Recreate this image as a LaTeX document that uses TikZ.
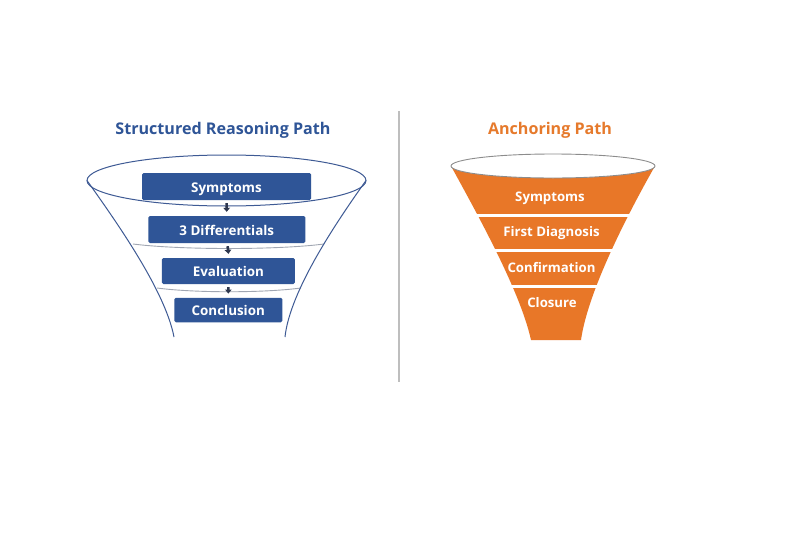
\documentclass[tikz,border=0pt]{standalone}
\usepackage{fontspec}
\setmainfont{Open Sans}
\usetikzlibrary{arrows.meta}
\definecolor{boxblue}{RGB}{47,85,151}
\definecolor{titleblue}{RGB}{47,85,151}
\definecolor{outlineblue}{RGB}{62,90,148}
\definecolor{arcgray}{RGB}{160,166,178}
\definecolor{funorange}{RGB}{232,119,40}
\definecolor{titleorange}{RGB}{230,122,44}
\definecolor{rimgray}{RGB}{140,140,140}
\definecolor{divgray}{RGB}{190,190,190}
\definecolor{arrowdark}{RGB}{45,55,78}
\tikzset{
  stepbox/.style={fill=boxblue, draw=none, rounded corners=1.5pt, text=white,
    font=\bfseries\fontsize{13.4}{15}\selectfont, inner sep=0pt, anchor=center,
    text height=11pt, text depth=0pt},
  ortext/.style={text=white, font=\bfseries\fontsize{13.2}{15}\selectfont, anchor=center},
  titletext/.style={font=\bfseries\fontsize{16.1}{19}\selectfont, anchor=center},
  smallarrow/.style={draw=arrowdark, line width=2.6pt, -{Triangle[width=6.5pt,length=4pt]}, shorten <=3pt, shorten >=4pt},
  funline/.style={draw=outlineblue, line width=1pt},
  innerarc/.style={draw=arcgray, line width=0.9pt},
  gapline/.style={draw=white, line width=3.5pt}
}
\begin{document}
\begin{tikzpicture}[x=1pt,y=-1pt]
\useasboundingbox (0,0) rectangle (800,533);
\fill[white] (0,0) rectangle (800,533);

% titles
\node[titletext, text=titleblue] (t1) at (223,130) {Structured Reasoning Path};
\node[titletext, text=titleorange] (t2) at (550,130) {Anchoring Path};

% divider
\draw[divgray, line width=1.4pt] (399,111) -- (399,382);

% ---------- left funnel ----------
\draw[innerarc] (133,244) .. controls (180,250) and (278,250) .. (324,244);
\draw[innerarc] (157,288) .. controls (195,293) and (263,293) .. (301,288);
\draw[funline] (226.5,180.5) ellipse [x radius=139.5pt, y radius=25.5pt];
\draw[funline] (87,180.5) .. controls (115,220) and (165,290) .. (174,337);
\draw[funline] (366,180.5) .. controls (338,220) and (290,290) .. (285,337);

\node[stepbox, minimum width=169pt, minimum height=27pt] (s) at (226.5,186.5) {Symptoms};
\node[stepbox, minimum width=157pt, minimum height=27pt] (d) at (226.8,229.5) {3 Differentials};
\node[stepbox, minimum width=133pt, minimum height=26pt] (e) at (228.4,271) {Evaluation};
\node[stepbox, minimum width=108pt, minimum height=24.5pt] (c) at (228.3,310) {Conclusion};

\draw[smallarrow] (s.south) -- (d.north);
\draw[smallarrow] ([xshift=0.5pt]d.south) -- ([xshift=0.5pt]e.north);
\draw[smallarrow] (e.south) -- (c.north);

% ---------- right funnel ----------
\fill[funorange] (451,166) .. controls (475,210) and (520,290) .. (531,340)
  -- (581,340) .. controls (588,290) and (630,210) .. (655,166)
  arc[start angle=0, end angle=-180, x radius=102pt, y radius=12pt] -- cycle;
\draw[gapline] (440,215.5) -- (670,215.5);
\draw[gapline] (440,250.5) -- (670,250.5);
\draw[gapline] (440,286.5) -- (670,286.5);
\draw[draw=rimgray, line width=0.9pt, fill=white] (553,166) ellipse [x radius=102pt, y radius=12pt];

\node[ortext] (o1) at (550,198) {Symptoms};
\node[ortext] (o2) at (551.5,233) {First Diagnosis};
\node[ortext] (o3) at (551.5,268) {Confirmation};
\node[ortext] (o4) at (552,302.5) {Closure};
\end{tikzpicture}
\end{document}
